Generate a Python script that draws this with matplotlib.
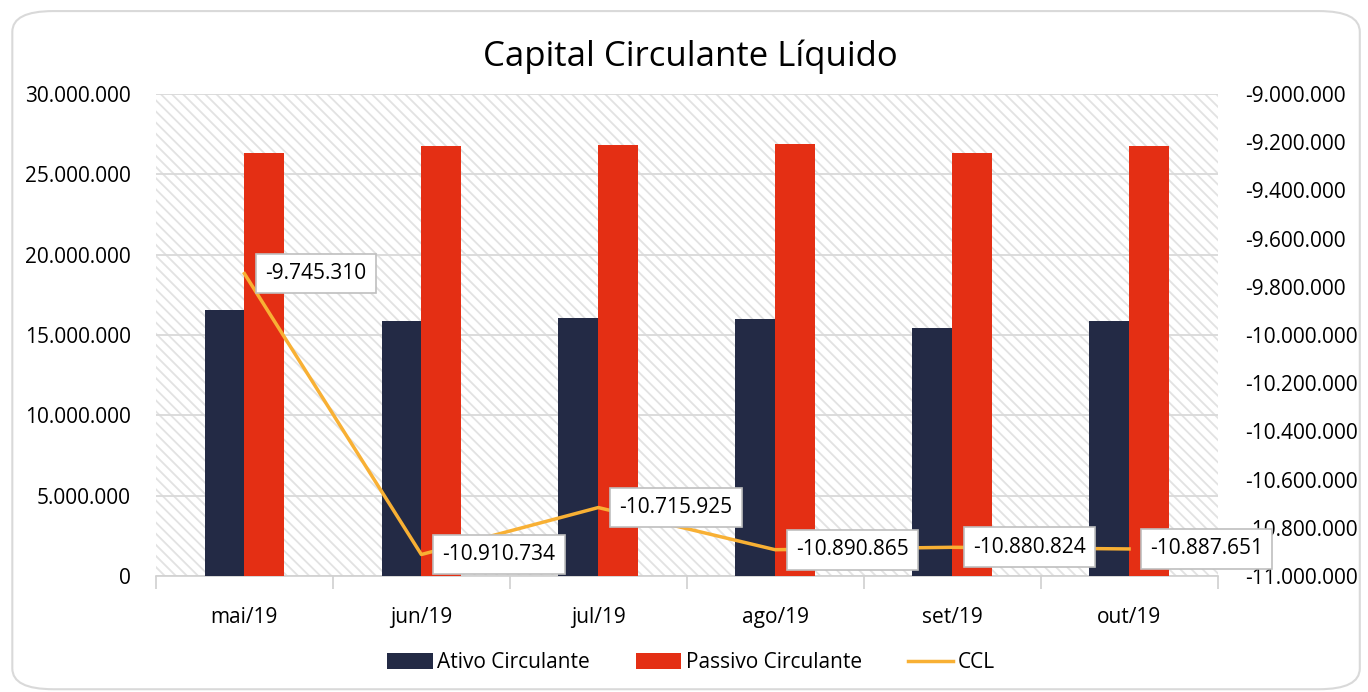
import numpy as np
import matplotlib
matplotlib.use("Agg")
import matplotlib.pyplot as plt
from matplotlib.patches import Rectangle, FancyBboxPatch
from matplotlib.ticker import FuncFormatter, FixedLocator

plt.rcParams['font.family'] = ['Open Sans', 'DejaVu Sans']
plt.rcParams['hatch.linewidth'] = 1.3

# --- dados ---
meses = ['mai/19', 'jun/19', 'jul/19', 'ago/19', 'set/19', 'out/19']
ativo = [16580000, 15850000, 16080000, 16000000, 15450000, 15870000]
passivo = [26330000, 26760000, 26800000, 26890000, 26330000, 26760000]
ccl = [-9745310, -10910734, -10715925, -10890865, -10880824, -10887651]

cor_ativo = '#232a45'
cor_passivo = '#e42f14'
cor_ccl = '#f8b034'
fs = 15


def fmt(v, pos=None):
    return f"{v:,.0f}".replace(',', '.')


fig = plt.figure(figsize=(13.68, 6.92), dpi=100)
ax = fig.add_axes([0.114, 0.1676, 0.776, 0.6966])
ax2 = ax.twinx()

# fundo hachurado
ax.set_facecolor('white')
bg = Rectangle((0, 0), 1, 1, transform=ax.transAxes, facecolor='white',
               edgecolor='#e2e2e2', hatch='\\\\\\', linewidth=0, zorder=0)
ax.add_patch(bg)

x = np.arange(len(meses))
w = 0.225
ax.bar(x - w / 2, ativo, w, color=cor_ativo, label='Ativo Circulante', zorder=3)
ax.bar(x + w / 2, passivo, w, color=cor_passivo, label='Passivo Circulante', zorder=3)

ax.set_xlim(-0.5, len(meses) - 0.5)
ax.set_ylim(0, 30000000)
ax.set_yticks(np.arange(0, 30000001, 5000000))
ax.yaxis.set_major_formatter(FuncFormatter(fmt))
ax.grid(axis='y', color='#d9d9d9', linewidth=1.3, zorder=1)
ax.set_axisbelow(True)

ax.set_xticks(x)
ax.set_xticklabels(meses)
ax.xaxis.set_minor_locator(FixedLocator(np.arange(-0.5, len(meses), 1)))
ax.tick_params(axis='x', which='major', length=0, pad=22, labelsize=fs)
ax.tick_params(axis='x', which='minor', length=9, color='#d0d0d0', width=1.2)
ax.tick_params(axis='y', length=0, labelsize=fs, pad=18)

for a in (ax, ax2):
    for s in ('left', 'right', 'top'):
        a.spines[s].set_visible(False)
ax.spines['bottom'].set_color('#d0d0d0')
ax.spines['bottom'].set_linewidth(1.2)
ax2.spines['bottom'].set_visible(False)

# linha CCL
ax2.plot(x, ccl, color=cor_ccl, linewidth=2.5, label='CCL', zorder=4)
ax2.set_ylim(-11000000, -9000000)
ax2.set_yticks(np.arange(-11000000, -8999999, 200000))
ax2.yaxis.set_major_formatter(FuncFormatter(fmt))
ax2.tick_params(axis='y', length=0, labelsize=fs, pad=20)

for xi, v in zip(x, ccl):
    ax2.annotate(fmt(v), (xi, v), xytext=(15, 0), textcoords='offset points',
                 ha='left', va='center', fontsize=fs, zorder=10,
                 annotation_clip=False,
                 bbox=dict(boxstyle='square,pad=0.45', facecolor='white',
                           edgecolor='#bfbfbf', linewidth=1.2))

fig.text(0.505, 0.918, 'Capital Circulante Líquido', ha='center', va='center',
         fontsize=25)

h1, l1 = ax.get_legend_handles_labels()
h2, l2 = ax2.get_legend_handles_labels()
fig.legend(h1 + h2, l1 + l2, loc='center', bbox_to_anchor=(0.505, 0.042),
           ncol=3, frameon=False, fontsize=fs, handlelength=2.2,
           handleheight=0.8, columnspacing=2.2, handletextpad=0.2)

# moldura arredondada
frame = FancyBboxPatch((0.009, 0.004), 0.985, 0.98, transform=fig.transFigure,
                       boxstyle='round,pad=0,rounding_size=0.03',
                       facecolor='none', edgecolor='#d9d9d9', linewidth=1.5)
fig.patches.append(frame)

fig.savefig('out.png', dpi=100)
